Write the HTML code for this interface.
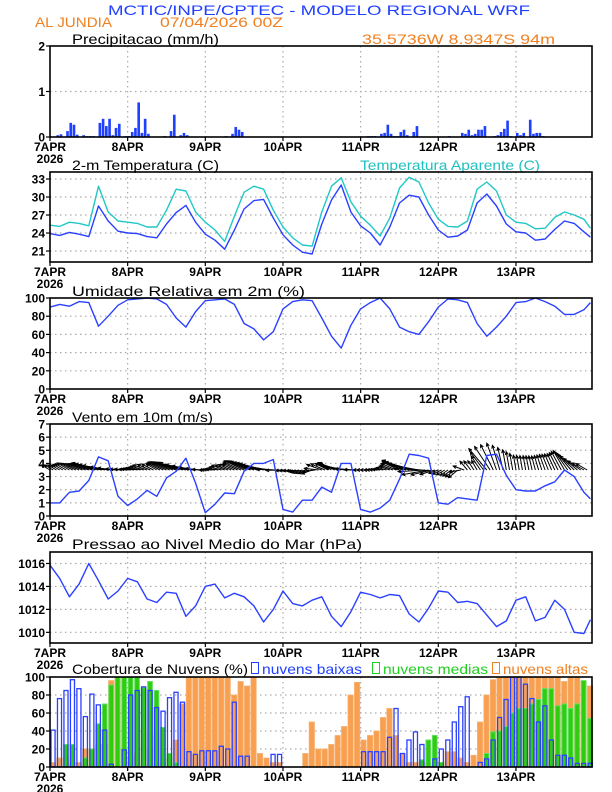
<!DOCTYPE html>
<html><head><meta charset="utf-8"><style>
html,body{margin:0;padding:0;background:#fff;}
svg{display:block;font-family:"Liberation Sans",sans-serif;}
.t{font-size:14px;}
.ax{font-size:12px;font-weight:bold;font-family:"Liberation Sans Narrow","Liberation Sans",sans-serif;}
</style></head><body>
<svg id="c" width="612" height="792" viewBox="0 0 612 792">
<text x="108" y="15" class="t" fill="#2040ff" textLength="422" lengthAdjust="spacingAndGlyphs">MCTIC/INPE/CPTEC - MODELO REGIONAL WRF</text>
<text x="35" y="27" class="t" fill="#f08020" textLength="77" lengthAdjust="spacingAndGlyphs">AL JUNDIA</text>
<text x="160" y="27" class="t" fill="#f08020" textLength="123" lengthAdjust="spacingAndGlyphs">07/04/2026 00Z</text>
<text x="72" y="44" class="t" textLength="147" lengthAdjust="spacingAndGlyphs">Precipitacao (mm/h)</text>
<text x="362" y="44" class="t" fill="#f08020" textLength="193" lengthAdjust="spacingAndGlyphs">35.5736W 8.9347S 94m</text>
<text x="72" y="170" class="t" textLength="147" lengthAdjust="spacingAndGlyphs">2-m Temperatura (C)</text>
<text x="360" y="170" class="t" fill="#20c0c0" textLength="180" lengthAdjust="spacingAndGlyphs">Temperatura Aparente (C)</text>
<text x="72" y="296" class="t" textLength="233" lengthAdjust="spacingAndGlyphs">Umidade Relativa em 2m (%)</text>
<text x="72" y="422" class="t" textLength="141" lengthAdjust="spacingAndGlyphs">Vento em 10m (m/s)</text>
<text x="72" y="549" class="t" textLength="290" lengthAdjust="spacingAndGlyphs">Pressao ao Nivel Medio do Mar (hPa)</text>
<text x="72" y="674" class="t" textLength="176" lengthAdjust="spacingAndGlyphs">Cobertura de Nuvens (%)</text>
<rect x="251.5" y="662.5" width="7" height="11" fill="none" stroke="#2040ff"/>
<text x="262" y="674" class="t" fill="#2040ff" textLength="100" lengthAdjust="spacingAndGlyphs">nuvens baixas</text>
<rect x="372.5" y="662.5" width="7" height="11" fill="none" stroke="#20d020"/>
<text x="383" y="674" class="t" fill="#20d020" textLength="105" lengthAdjust="spacingAndGlyphs">nuvens medias</text>
<rect x="492.5" y="662.5" width="7" height="11" fill="none" stroke="#f08020"/>
<text x="503" y="674" class="t" fill="#f08020" textLength="85" lengthAdjust="spacingAndGlyphs">nuvens altas</text>
</svg>
<script>
const dayLabels=["7APR","8APR","9APR","10APR","11APR","12APR","13APR"];
const hours=[0,3,6,9,12,15,18,21,24,27,30,33,36,39,42,45,48,51,54,57,60,63,66,69,72,75,78,81,84,87,90,93,96,99,102,105,108,111,114,117,120,123,126,129,132,135,138,141,144,147,150,153,156,159,162,165,167];
const temp=[23.9,23.6,24.1,23.8,23.4,28.5,26.0,24.3,24.0,23.9,23.4,23.2,25.5,27.4,28.6,25.8,23.8,22.8,21.3,24.5,28.0,29.4,29.6,26.5,23.7,22.0,20.8,20.5,25.5,29.5,32.0,27.5,25.2,24.0,22.0,25.0,29.0,30.3,30.0,27.0,24.5,23.3,23.5,24.5,29.0,30.5,28.5,25.5,24.2,24.0,22.8,23.0,24.6,26.0,25.6,24.2,23.3];
const tempApparent=[25.3,25.1,25.8,25.6,25.2,31.8,27.5,26.0,25.8,25.6,25.0,25.0,27.8,31.3,31.0,27.5,25.8,24.5,22.6,26.8,30.8,31.8,31.3,27.8,25.0,23.2,22.0,21.8,27.5,31.8,33.2,29.2,26.8,25.3,23.5,26.5,31.5,33.3,32.5,29.0,26.3,25.1,25.0,26.0,31.3,32.5,31.0,27.0,25.8,25.6,24.7,24.8,26.6,27.5,27.0,26.3,24.8];
const humidity=[90,93,91,96,95,69,80,92,98,99,100,99,93,78,68,85,97,98,99,93,72,66,54,63,88,96,98,97,78,58,45,70,88,95,100,88,68,63,60,74,90,99,98,95,72,58,68,80,95,96,100,96,91,82,82,87,95];
const windSpeed=[1.0,1.0,1.8,1.9,2.7,4.5,4.2,1.5,0.8,1.3,1.95,1.5,2.9,3.4,4.4,2.5,0.25,0.9,1.75,1.7,3.4,4.0,4.0,4.3,0.5,0.3,1.2,1.2,2.2,1.8,4.0,4.0,0.5,0.3,0.6,1.2,2.8,4.7,4.6,4.4,1.0,0.9,1.4,1.3,1.2,4.6,4.7,3.1,2.0,1.9,1.9,2.3,2.6,3.5,3.0,1.8,1.3];
const windDir=[150,150,150,155,160,165,170,175,175,170,160,150,155,160,165,170,180,175,160,155,155,160,165,175,185,190,195,200,160,150,165,175,180,180,175,160,155,160,170,190,200,215,220,130,120,130,110,100,100,100,105,110,115,120,135,150,150];
const pressure=[1015.85,1014.7,1013.1,1014.2,1016.0,1014.5,1012.9,1013.6,1014.7,1014.4,1012.9,1012.6,1013.5,1013.4,1011.4,1012.3,1014.0,1014.2,1013.0,1013.4,1013.1,1012.3,1010.9,1012.0,1013.6,1012.5,1012.3,1012.8,1013.1,1011.4,1010.5,1011.8,1013.5,1013.3,1013.0,1013.3,1013.2,1011.6,1010.9,1012.1,1013.6,1013.5,1012.6,1012.7,1012.5,1011.5,1010.5,1011.0,1012.8,1013.1,1011.0,1011.3,1012.8,1012.0,1010.0,1009.9,1011.1];
const precipHours=[2,3,5,6,7,8,10,11,12,13,15,16,17,18,19,20,21,23,24,25,26,27,28,29,30,35,37,38,40,41,42,54,56,57,58,59,79,98,99,100,102,103,104,105,106,107,108,109,110,112,113,123,127,128,129,130,131,132,133,134,137,138,139,140,141,142,144,145,146,148,149,150,151,152];
const precipVals=[0.04,0.06,0.13,0.31,0.27,0.05,0.04,0.02,0.02,0.02,0.31,0.40,0.24,0.40,0.04,0.20,0.29,0.02,0.02,0.11,0.20,0.76,0.09,0.40,0.07,0.02,0.13,0.49,0.04,0.09,0.04,0.02,0.07,0.22,0.16,0.11,0.01,0.02,0.02,0.02,0.07,0.09,0.27,0.07,0.02,0.02,0.11,0.16,0.04,0.11,0.24,0.02,0.09,0.07,0.16,0.04,0.07,0.16,0.16,0.24,0.02,0.04,0.11,0.18,0.36,0.02,0.09,0.04,0.09,0.38,0.07,0.09,0.09,0.02];
const cloudHours=[0,2,4,6,8,10,12,14,16,18,20,22,24,26,28,30,32,34,36,38,40,42,44,46,48,50,52,54,56,58,60,62,64,66,68,70,72,74,76,78,80,82,84,86,88,90,92,94,96,98,100,102,104,106,108,110,112,114,116,118,120,122,124,126,128,130,132,134,136,138,140,142,144,146,148,150,152,154,156,158,160,162,164,166];
const cloudLow=[41,76,85,97,87,56,81,69,41,3,0,19,80,85,89,85,66,62,77,83,72,17,14,18,18,18,23,20,72,12,12,0,0,0,14,14,0,0,0,0,0,0,0,0,0,0,0,0,17,17,17,17,33,65,15,30,39,25,0,9,20,30,50,67,78,0,5,9,30,55,75,100,100,92,76,50,68,30,13,13,10,4,4,4];
const cloudMid=[0,0,25,25,0,10,20,48,70,91,100,100,100,100,88,95,85,44,15,5,0,0,0,0,0,0,0,0,0,0,0,0,0,0,0,0,0,0,0,0,0,0,0,0,0,0,0,0,0,0,0,0,0,0,0,0,0,8,30,35,5,0,0,0,0,0,0,15,39,40,45,60,65,65,70,75,87,87,68,70,65,70,96,54];
const cloudHigh=[5,10,10,5,5,20,20,25,25,96,100,20,10,15,40,20,35,5,10,30,70,100,100,100,100,100,100,100,80,95,90,100,15,10,5,5,0,0,0,15,50,20,20,25,35,45,80,94,30,35,40,55,65,35,15,5,5,5,5,0,5,17,17,10,5,13,50,80,97,100,100,100,100,100,100,100,100,100,100,95,100,100,95,90];

const NS="http://www.w3.org/2000/svg";
const svg=document.getElementById("c");
const L=50,R=592;
function X(h){return L+h*(R-L)/167.5;}
function el(tag,attrs,parent){const e=document.createElementNS(NS,tag);for(const k in attrs)e.setAttribute(k,attrs[k]);(parent||svg).appendChild(e);return e;}
function panel(name,top,bot,ymin,ymax,ticks,tickLabels){
  const g=el("g",{});
  
  
  const Y=v=>bot-(v-ymin)/(ymax-ymin)*(bot-top);
  for(let d=1;d<7;d++){const gl=el("line",{x1:X(d*24),x2:X(d*24),y1:top,y2:bot,stroke:"#aaa","stroke-dasharray":"1.5,3.5","stroke-width":1.2},g);
    
    }
  ticks.forEach((t,i)=>{const y=Y(t);
    if(y>top+1&&y<bot-1){const gl=el("line",{x1:L,x2:R,y1:y,y2:y,stroke:"#aaa","stroke-dasharray":"1.5,3.5","stroke-width":1.2},g);
      
      }
    const tk=el("line",{x1:L-4,x2:L,y1:y,y2:y,stroke:"#000","stroke-width":1.2},g);
    
    
    const tx=el("text",{x:L-5,y:y+4.5,"text-anchor":"end","class":"ax"},g);tx.textContent=tickLabels[i];
    
    
  });
  dayLabels.forEach((lab,d)=>{const x=X(d*24);
    const tk=el("line",{x1:x,x2:x,y1:bot,y2:bot+4,stroke:"#000","stroke-width":1.2},g);
    
    
    const tx=el("text",{x:x,y:bot+14,"text-anchor":"middle","class":"ax"},g);tx.textContent=lab;
    
    
  });
  const yr=el("text",{x:X(0),y:bot+26,"text-anchor":"middle","class":"ax"},g);yr.textContent="2026";
  
  
  const layer=el("g",{},g);
  
  
  const fr=el("rect",{x:L,y:top,width:R-L,height:bot-top,fill:"none",stroke:"#000","stroke-width":1.6},g);
  
  
  return {Y,layer};
}
function line(p,vals,color,name){
  const d=vals.map((v,i)=>(i?"L":"M")+X(hours[i]).toFixed(1)+","+p.Y(v).toFixed(1)).join("");
  const pl=el("path",{d:d,fill:"none",stroke:color,"stroke-width":1.4,"stroke-linejoin":"round"},p.layer);
  
  
}
const p1=panel("precip-panel",46,137,0,2,[0,1,2],["0","1","2"]);
precipHours.forEach((h,i)=>{const y=p1.Y(precipVals[i]);
  const b=el("rect",{x:X(h),y:y,width:X(1)-L-0.6,height:137-y,fill:"#2040ff"},p1.layer);
  
  });
const p2=panel("temperature-panel",172,262,19.17,34.17,[21,24,27,30,33],["21","24","27","30","33"]);
line(p2,tempApparent,"#20c8c8","apparent-temp-line");
line(p2,temp,"#2a40ff","temp-line");
const p3=panel("humidity-panel",298,389,0,100,[0,20,40,60,80,100],["0","20","40","60","80","100"]);
line(p3,humidity,"#2a40ff","humidity-line");
const p4=panel("wind-panel",424,516,0,7,[0,1,2,3,4,5,6,7],["0","1","2","3","4","5","6","7"]);
(function(){
  const base=p4.Y(3.5);
  for(let k=0;k<hours.length-1;k++){
    const h0=hours[k],h1=hours[k+1];
    for(let h=h0;h<h1;h++){
      const f=(h-h0)/(h1-h0);
      const s=windSpeed[k]+(windSpeed[k+1]-windSpeed[k])*f;
      const a=(windDir[k]+(windDir[k+1]-windDir[k])*f)*Math.PI/180;
      const len=5+s*5, x0=X(h), x1=x0+len*Math.cos(a), y1=base-len*Math.sin(a);
      const ha=3.5, a1=a+Math.PI-0.45, a2=a+Math.PI+0.45;
      const d=`M${x0.toFixed(1)},${base.toFixed(1)}L${x1.toFixed(1)},${y1.toFixed(1)}M${(x1+ha*Math.cos(a1)).toFixed(1)},${(y1-ha*Math.sin(a1)).toFixed(1)}L${x1.toFixed(1)},${y1.toFixed(1)}L${(x1+ha*Math.cos(a2)).toFixed(1)},${(y1-ha*Math.sin(a2)).toFixed(1)}`;
      const ar=el("path",{d:d,fill:"none",stroke:"#000","stroke-width":1},p4.layer);
      
      
    }
  }
})();
line(p4,windSpeed,"#2a40ff","wind-speed-line");
const p5=panel("pressure-panel",552,643,1009.07,1017.0,[1010,1012,1014,1016],["1010","1012","1014","1016"]);
line(p5,pressure,"#2a40ff","pressure-line");
const p6=panel("cloud-panel",677,767,0,100,[0,20,40,60,80,100],["0","20","40","60","80","100"]);
const bw=X(2)-L-1.2;
cloudHours.forEach((h,i)=>{if(cloudHigh[i]>0){const y=p6.Y(cloudHigh[i]);
  const b=el("rect",{x:X(h)+0.3,y:y,width:bw,height:767-y,fill:"#f8a050",stroke:"#f5b070","stroke-width":0.8},p6.layer);
  
  }});
cloudHours.forEach((h,i)=>{if(cloudMid[i]>0){const y=p6.Y(cloudMid[i]);
  const b=el("rect",{x:X(h)+0.6,y:y,width:bw-0.6,height:767-y,fill:"#30cc10",stroke:"#60e060","stroke-width":1},p6.layer);
  
  }});
cloudHours.forEach((h,i)=>{if(cloudLow[i]>0){const y=p6.Y(cloudLow[i]);
  const b=el("rect",{x:X(h)+1,y:y,width:bw-1.2,height:767-y,fill:"none",stroke:"#2a40ff","stroke-width":1.3},p6.layer);
  
  }});
</script>
</body></html>
